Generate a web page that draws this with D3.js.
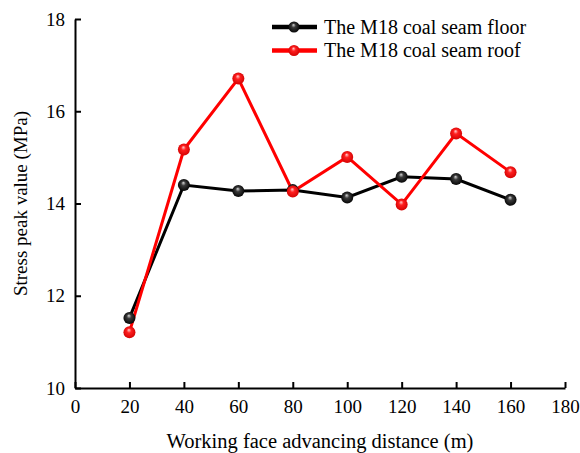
<!DOCTYPE html>
<html>
<head>
<meta charset="utf-8">
<script src="https://cdn.jsdelivr.net/npm/d3@7"></script>
<style>
  body { margin: 0; background: #fff; }
  svg text { font-family: "Liberation Serif", "Times New Roman", serif; fill: #000; }
</style>
</head>
<body>
<div id="chart"></div>
<script>
  // values
  const distances = [20, 40, 60, 80, 100, 120, 140, 160];
  const floorValues = [11.52, 14.4, 14.27, 14.29, 14.13, 14.58, 14.53, 14.08];
  const roofValues = [11.21, 15.17, 16.71, 14.26, 15.01, 13.98, 15.52, 14.68];
  const xTicks = [0, 20, 40, 60, 80, 100, 120, 140, 160, 180];
  const yTicks = [10, 12, 14, 16, 18];

  const series = [
    { name: "The M18 coal seam floor", values: floorValues, color: "#000", grad: "gBlack" },
    { name: "The M18 coal seam roof", values: roofValues, color: "#ff0000", grad: "gRed" },
  ];

  const serif = '"Liberation Serif", "Times New Roman", serif';
  const w = 580, h = 453;
  const margin = { left: 75, right: 15, top: 19, bottom: 65 };

  const svg = d3.select("#chart").append("svg")
    .attr("width", w).attr("height", h);

  const defs = svg.append("defs");
  function sphere(id, light, mid, dark) {
    const g = defs.append("radialGradient").attr("id", id)
      .attr("cx", "50%").attr("cy", "50%").attr("r", "55%")
      .attr("fx", "45%").attr("fy", "30%");
    g.append("stop").attr("offset", "0%").attr("stop-color", light);
    g.append("stop").attr("offset", "35%").attr("stop-color", mid);
    g.append("stop").attr("offset", "100%").attr("stop-color", dark);
  }
  sphere("gBlack", "#d8d8d8", "#3a3a3a", "#000");
  sphere("gRed", "#ffd0d0", "#ff2020", "#d00000");

  const x = d3.scaleLinear().domain([0, 180]).range([margin.left, w - margin.right]);
  const y = d3.scaleLinear().domain([10, 18]).range([h - margin.bottom, margin.top]);

  // axes, ticks pointing inward
  const xAxis = svg.append("g")
    .attr("transform", `translate(0,${y(10)})`)
    .call(d3.axisBottom(x).tickValues(xTicks).tickSizeInner(-6).tickSizeOuter(0).tickPadding(12));
  const yAxis = svg.append("g")
    .attr("transform", `translate(${x(0)},0)`)
    .call(d3.axisLeft(y).tickValues(yTicks).tickSizeInner(-6).tickSizeOuter(0).tickPadding(10));

  [xAxis, yAxis].forEach((a) => {
    a.attr("font-family", serif).attr("font-size", 19);
    a.select(".domain").attr("stroke", "#000").attr("stroke-width", 2);
    a.selectAll(".tick line").attr("stroke", "#000").attr("stroke-width", 2);
    a.selectAll(".tick text")
      .style("font-family", serif)
      .style("font-size", "19px")
      .attr("fill", "#000");
  });

  svg.append("text")
    .attr("x", (x(0) + x(180)) / 2).attr("y", 448)
    .attr("text-anchor", "middle").style("font-size", "20.5px")
    .text("Working face advancing distance (m)");

  svg.append("text")
    .attr("transform", `translate(27,${(y(10) + y(18)) / 2}) rotate(-90)`)
    .attr("text-anchor", "middle").style("font-size", "19px")
    .text("Stress peak value (MPa)");

  const line = d3.line().x((d, i) => x(distances[i])).y((d) => y(d));

  series.forEach((s) => {
    svg.append("path")
      .datum(s.values)
      .attr("fill", "none")
      .attr("stroke", s.color)
      .attr("stroke-width", 3)
      .attr("d", line);
  });

  series.forEach((s) => {
    svg.append("g").selectAll("circle")
      .data(s.values)
      .enter()
      .append("circle")
      .attr("cx", (d, i) => x(distances[i]))
      .attr("cy", (d) => y(d))
      .attr("r", 6)
      .attr("fill", `url(#${s.grad})`);
  });

  // legend
  const legend = svg.append("g");
  series.forEach((s, i) => {
    const ly = 27 + i * 23.5;
    legend.append("line")
      .attr("x1", 272).attr("x2", 317).attr("y1", ly).attr("y2", ly)
      .attr("stroke", s.color).attr("stroke-width", 4.5);
    legend.append("circle")
      .attr("cx", 294).attr("cy", ly).attr("r", 5.5)
      .attr("fill", `url(#${s.grad})`);
    legend.append("text")
      .attr("x", 324).attr("y", ly + 6.5)
      .style("font-size", "20px")
      .text(s.name);
  });
</script>
</body>
</html>
